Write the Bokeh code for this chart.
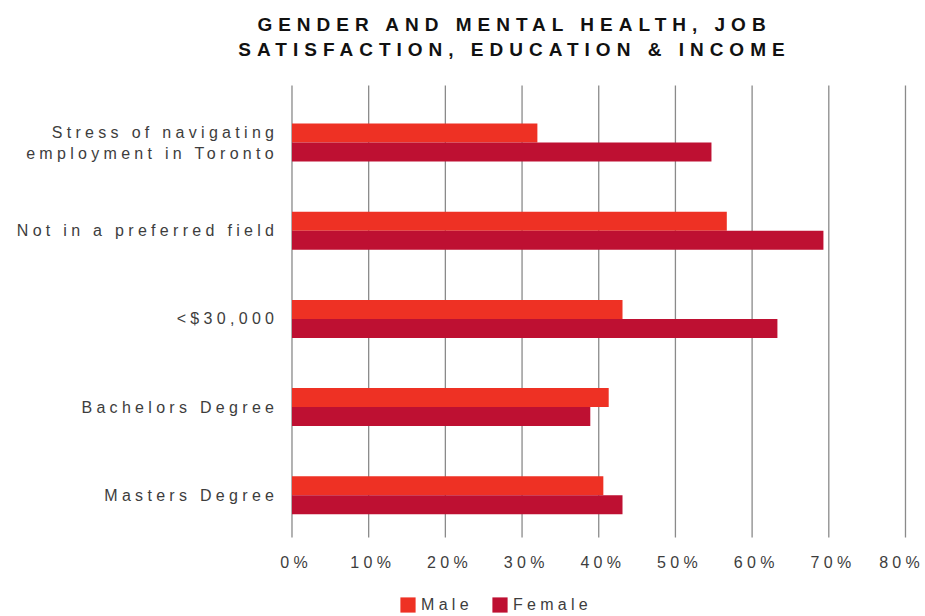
import html
from bokeh.plotting import figure
from bokeh.models import (Range1d, Legend, LegendItem, Div, LabelSet,
                          ColumnDataSource)
from bokeh.core.properties import value
from bokeh.layouts import column
from bokeh.embed import file_html
from bokeh.resources import INLINE

# ---- data ----
categories = ["Stress of navigating\nemployment in Toronto",
              "Not in a preferred field",
              "<$30,000",
              "Bachelors Degree",
              "Masters Degree"]
male = [32.0, 56.7, 43.1, 41.3, 40.6]
female = [54.7, 69.3, 63.3, 38.9, 43.1]
x_ticks = [0, 10, 20, 30, 40, 50, 60, 70, 80]
x_tick_labels = ["0%", "10%", "20%", "30%", "40%", "50%", "60%", "70%", "80%"]
title_lines = ["GENDER AND MENTAL HEALTH, JOB", "SATISFACTION, EDUCATION & INCOME"]
series_names = ["Male", "Female"]

# ---- style ----
MALE_COLOR = "#EE3124"
FEMALE_COLOR = "#BE1032"
GRID_COLOR = "#8a8a8a"
TEXT_COLOR = "#3d3d3d"
FONT = "Liberation Sans"
LS = 4.3            # letter spacing (px) of the chart texts
W, H_TITLE, H_PLOT = 925, 70, 546
UNIT = 88.15        # px per category step
LINE_STEP = 21 / UNIT

n = len(categories)
pos = [n - 1 - i for i in range(n)]
bh = 19 / UNIT
off = bh / 2
male_y = [v + off for v in pos]
female_y = [v - off for v in pos]
grid_top, grid_bottom = 4.6478, -0.4799

# the frame covers the whole canvas; the value axis runs 0..80 between
# x = 291.5px and x = 905px of the canvas
p = figure(width=W, height=H_PLOT, output_backend="svg", toolbar_location=None,
           x_range=Range1d(-38.01, 82.61), y_range=Range1d(-1.3761, 4.8179),
           min_border=0)
p.styles = {"letter-spacing": f"{LS}px"}
p.outline_line_color = None
p.axis.visible = False
p.grid.visible = False

# vertical grid lines at every tick
p.segment(x0=x_ticks, x1=x_ticks, y0=[grid_bottom] * len(x_ticks),
          y1=[grid_top] * len(x_ticks), line_color=GRID_COLOR, line_width=1.3)

r_m = p.hbar(y=male_y, left=0, right=male, height=bh,
             fill_color=MALE_COLOR, line_color=None)
r_f = p.hbar(y=female_y, left=0, right=female, height=bh,
             fill_color=FEMALE_COLOR, line_color=None)

# category labels, one text per line, right aligned
# (the offset compensates the CSS letter spacing)
lx, ly, lt, lxo = [], [], [], []
for c, yv in zip(categories, pos):
    lines = c.split("\n")
    m = len(lines)
    for k, line in enumerate(lines):
        lx.append(x_ticks[0])
        ly.append(yv + ((m - 1) / 2 - k) * LINE_STEP)
        lt.append(line)
        lxo.append(-18 - (len(line) - 1) * LS)
ysrc = ColumnDataSource(dict(x=lx, y=ly, text=lt, xo=lxo))
p.add_layout(LabelSet(x="x", y="y", text="text", source=ysrc, x_offset="xo",
                      text_align="right", text_baseline="middle",
                      text_font=value(FONT), text_font_size="16px",
                      text_color=TEXT_COLOR))

# value tick labels, centred under the grid lines
xo = [2 - (len(t) - 1) * LS / 2 for t in x_tick_labels]
xo[-1] -= 8      # keep the last label inside the canvas
xsrc = ColumnDataSource(dict(
    x=x_ticks, y=[grid_bottom] * len(x_ticks), text=x_tick_labels, xo=xo))
p.add_layout(LabelSet(x="x", y="y", text="text", source=xsrc, x_offset="xo",
                      y_offset=-16, text_align="center", text_baseline="top",
                      text_font=value(FONT), text_font_size="16px",
                      text_color=TEXT_COLOR))

legend = Legend(items=[LegendItem(label=series_names[0], renderers=[r_m]),
                       LegendItem(label=series_names[1], renderers=[r_f])],
                location=(398, 2), orientation="horizontal",
                border_line_color=None, background_fill_alpha=0,
                padding=0, margin=0, glyph_width=19, glyph_height=19,
                label_standoff=4, spacing=17,
                label_text_font=FONT, label_text_font_size="16px",
                label_text_color=TEXT_COLOR)
p.add_layout(legend, "center")

title_html = "<br>".join(html.escape(t) for t in title_lines)
title_div = Div(
    text=('<div style="box-sizing:border-box;width:925px;padding-left:104px;'
          'padding-top:12px;text-align:center;font-family:\'Liberation Sans\';'
          'font-weight:bold;font-size:19px;line-height:25px;letter-spacing:6px;'
          'color:#111;">' + title_html + '</div>'),
    width=W, height=H_TITLE, margin=0)

layout = column(title_div, p, spacing=0)
open("out.html", "w").write(file_html(layout, INLINE))
